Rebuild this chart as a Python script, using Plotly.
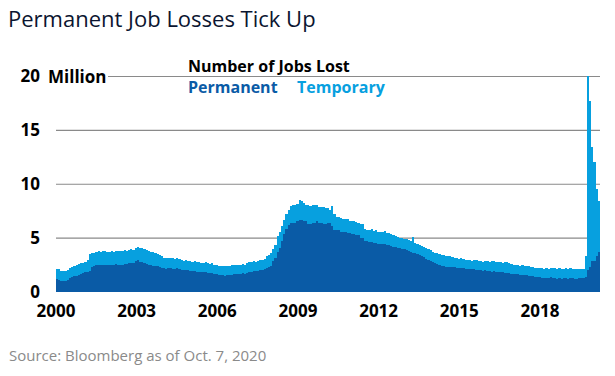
import plotly.graph_objects as go
import numpy as np

# Monthly values, Jan 2000 - Sep 2020 (millions)
permanent = [
    # 2000
    1.17, 1.10, 1.02, 1.00, 1.05, 1.15, 1.30, 1.38, 1.45, 1.50, 1.58, 1.70,
    # 2001
    1.80, 1.82, 1.88, 1.95, 2.35, 2.45, 2.50, 2.48, 2.55, 2.50, 2.52, 2.48,
    # 2002
    2.50, 2.55, 2.52, 2.58, 2.55, 2.50, 2.55, 2.62, 2.60, 2.65, 2.70, 2.72,
    # 2003
    2.85, 2.95, 2.80, 2.78, 2.70, 2.60, 2.55, 2.50, 2.45, 2.45, 2.40, 2.35,
    # 2004
    2.25, 2.20, 2.18, 2.22, 2.20, 2.15, 2.18, 2.20, 2.10, 2.05, 2.00, 2.02,
    # 2005
    2.00, 1.98, 1.92, 1.95, 1.88, 1.90, 1.85, 1.82, 1.90, 1.80, 1.78, 1.75,
    # 2006
    1.70, 1.65, 1.62, 1.55, 1.58, 1.52, 1.55, 1.60, 1.62, 1.68, 1.65, 1.70,
    # 2007
    1.70, 1.75, 1.68, 1.80, 1.85, 1.90, 1.92, 1.95, 1.98, 2.00, 2.05, 2.10,
    # 2008
    2.25, 2.35, 2.45, 2.85, 3.15, 3.70, 4.10, 4.70, 5.40, 5.85, 6.25, 6.40,
    # 2009
    6.40, 6.40, 6.55, 6.70, 6.65, 6.55, 6.55, 6.35, 6.35, 6.45, 6.45, 6.55,
    # 2010
    6.40, 6.40, 6.35, 6.35, 6.40, 6.40, 6.15, 5.80, 5.75, 5.75, 5.60, 5.55,
    # 2011
    5.55, 5.50, 5.50, 5.40, 5.40, 5.30, 5.25, 5.05, 5.00, 4.75, 4.70, 4.65,
    # 2012
    4.60, 4.55, 4.55, 4.50, 4.45, 4.50, 4.45, 4.40, 4.35, 4.30, 4.20, 4.15,
    # 2013
    4.10, 4.05, 4.00, 3.95, 3.90, 3.80, 3.75, 3.65, 3.60, 3.50, 3.45, 3.35,
    # 2014
    3.25, 3.10, 3.00, 2.90, 2.80, 2.70, 2.60, 2.50, 2.45, 2.40, 2.35, 2.30,
    # 2015
    2.35, 2.30, 2.30, 2.25, 2.25, 2.20, 2.20, 2.15, 2.15, 2.10, 2.10, 2.10,
    # 2016
    2.05, 2.00, 2.00, 1.95, 2.00, 1.95, 1.95, 1.90, 1.95, 1.90, 1.90, 1.85,
    # 2017
    1.85, 1.80, 1.80, 1.75, 1.70, 1.70, 1.65, 1.65, 1.60, 1.60, 1.60, 1.55,
    # 2018
    1.50, 1.45, 1.45, 1.40, 1.35, 1.35, 1.30, 1.30, 1.30, 1.30, 1.35, 1.30,
    # 2019
    1.30, 1.25, 1.30, 1.25, 1.30, 1.30, 1.25, 1.30, 1.30, 1.25, 1.25, 1.30,
    # 2020
    1.30, 1.30, 1.40, 2.00, 2.30, 2.85, 2.90, 3.35, 3.75,
]

temporary = [
    # 2000
    1.01, 1.00, 0.96, 0.94, 0.90, 0.90, 0.90, 0.92, 1.00, 1.05, 1.02, 0.95,
    # 2001
    0.90, 0.98, 1.07, 1.60, 1.30, 1.17, 1.20, 1.32, 1.20, 1.30, 1.26, 1.24,
    # 2002
    1.25, 1.25, 1.20, 1.27, 1.25, 1.28, 1.27, 1.28, 1.25, 1.23, 1.25, 1.18,
    # 2003
    1.25, 1.20, 1.25, 1.34, 1.30, 1.30, 1.30, 1.20, 1.30, 1.15, 1.15, 1.05,
    # 2004
    1.05, 1.00, 0.97, 0.96, 1.00, 1.00, 0.92, 0.95, 0.95, 0.90, 0.90, 0.93,
    # 2005
    0.85, 0.92, 0.88, 0.90, 0.87, 0.90, 0.85, 0.90, 0.90, 0.85, 0.84, 0.90,
    # 2006
    0.85, 0.85, 0.83, 0.85, 0.84, 0.86, 0.85, 0.85, 0.88, 0.87, 0.85, 0.85,
    # 2007
    0.85, 0.85, 0.82, 0.85, 0.90, 0.90, 0.93, 0.85, 0.92, 0.95, 0.95, 1.00,
    # 2008
    1.05, 1.10, 1.20, 1.15, 1.25, 1.50, 1.50, 1.45, 1.25, 1.35, 1.40, 1.60,
    # 2009
    1.70, 1.70, 1.60, 1.80, 1.80, 1.75, 1.55, 1.75, 1.60, 1.65, 1.60, 1.55,
    # 2010
    1.50, 1.50, 1.50, 1.45, 1.35, 1.25, 1.80, 1.40, 1.20, 1.20, 1.30, 1.25,
    # 2011
    1.25, 1.25, 1.10, 1.20, 1.15, 1.20, 1.20, 1.30, 1.30, 1.10, 1.10, 1.10,
    # 2012
    1.25, 1.15, 1.20, 1.10, 1.10, 1.10, 1.20, 1.10, 1.10, 1.10, 1.10, 1.05,
    # 2013
    1.05, 1.00, 1.00, 1.00, 1.05, 1.05, 1.00, 1.50, 0.95, 1.00, 0.95, 0.90,
    # 2014
    0.95, 1.00, 0.95, 1.00, 0.95, 0.95, 1.00, 1.05, 1.00, 1.00, 1.00, 1.00,
    # 2015
    0.95, 0.95, 0.90, 0.90, 0.85, 0.95, 0.85, 0.85, 0.80, 0.85, 0.80, 0.85,
    # 2016
    0.90, 0.90, 0.85, 0.85, 0.90, 0.90, 0.85, 0.95, 0.95, 0.85, 0.90, 0.90,
    # 2017
    0.85, 1.00, 0.95, 0.90, 0.90, 0.85, 0.85, 0.90, 0.85, 0.90, 0.80, 0.90,
    # 2018
    0.90, 0.90, 0.85, 0.85, 0.85, 0.90, 0.90, 0.85, 0.90, 0.85, 0.90, 0.90,
    # 2019
    0.90, 0.90, 0.90, 0.90, 0.80, 0.90, 0.90, 0.90, 0.80, 0.90, 0.85, 0.85,
    # 2020
    0.85, 0.80, 1.90, 18.05, 15.40, 10.65, 9.20, 6.25, 4.65,
]

x_labels = ["2000", "2003", "2006", "2009", "2012", "2015", "2018"]
y_ticks = [0, 5, 10, 15, 20]
y_labels = ["0", "5", "10", "15", "20"]

DARK = "#0a5ba6"
LIGHT = "#07a0df"
FONT = "Open Sans"

months = list(range(len(permanent)))

fig = go.Figure()
fig.add_bar(x=months, y=permanent, marker=dict(color=DARK, line=dict(width=0)),
            name="Permanent", hoverinfo="skip")
fig.add_bar(x=months, y=temporary, marker=dict(color=LIGHT, line=dict(width=0)),
            name="Temporary", hoverinfo="skip")

# gridlines (below bars)
for v in y_ticks:
    x0 = 0.0956 if v == 20 else 0.0
    fig.add_shape(type="line", xref="paper", yref="y", x0=x0, x1=1, y0=v, y1=v,
                  line=dict(color="#8a8a8a", width=1.2), layer="below")

tick_pos = list(np.linspace(-0.5, 221.0, len(x_labels)))

fig.update_layout(
    width=615, height=376,
    margin=dict(l=56, r=15, t=71, b=84),
    paper_bgcolor="white", plot_bgcolor="white",
    barmode="stack", bargap=0, showlegend=False,
    title=dict(text="Permanent Job Losses Tick Up", x=8/615, xanchor="left",
               y=1 - 19/376, yanchor="middle",
               font=dict(family=FONT, size=22, color="#0b1530")),
    xaxis=dict(range=[-0.5, len(permanent) - 0.5], tickvals=tick_pos, ticktext=x_labels,
               showgrid=False, zeroline=False, showline=False, ticks="",
               ticklabelstandoff=7,
               tickfont=dict(family=FONT, size=17, color="black", weight="bold")),
    yaxis=dict(range=[0, 20.51], tickvals=y_ticks, ticktext=y_labels,
               showgrid=False, zeroline=False, showline=False, ticks="",
               ticklabelstandoff=15,
               tickfont=dict(family=FONT, size=17, color="black", weight="bold")),
)

ann_font = dict(family=FONT, size=16, weight="bold")
fig.add_annotation(text="Million", xref="paper", yref="y", x=(46-56)/544, y=20,
                   xanchor="left", yanchor="middle", showarrow=False,
                   font=dict(ann_font, color="black", size=17))
fig.add_annotation(text="Number of Jobs Lost", xref="paper", yref="paper",
                   x=(186-56)/544, y=(292-66)/221, xanchor="left", yanchor="middle",
                   showarrow=False, font=dict(ann_font, color="black"))
fig.add_annotation(text="Permanent", xref="paper", yref="paper",
                   x=(186-56)/544, y=(292-87)/221, xanchor="left", yanchor="middle",
                   showarrow=False, font=dict(ann_font, color=DARK))
fig.add_annotation(text="Temporary", xref="paper", yref="paper",
                   x=(295-56)/544, y=(292-87)/221, xanchor="left", yanchor="middle",
                   showarrow=False, font=dict(ann_font, color=LIGHT))
fig.add_annotation(text="Source: Bloomberg as of Oct. 7, 2020", xref="paper", yref="paper",
                   x=(7-56)/544, y=(292-355)/221, xanchor="left", yanchor="middle",
                   showarrow=False, font=dict(family=FONT, size=15, color="#8a8a8a"))

fig.write_html("out.html", config={"displayModeBar": False},
               post_script="document.body.style.margin='0';")
